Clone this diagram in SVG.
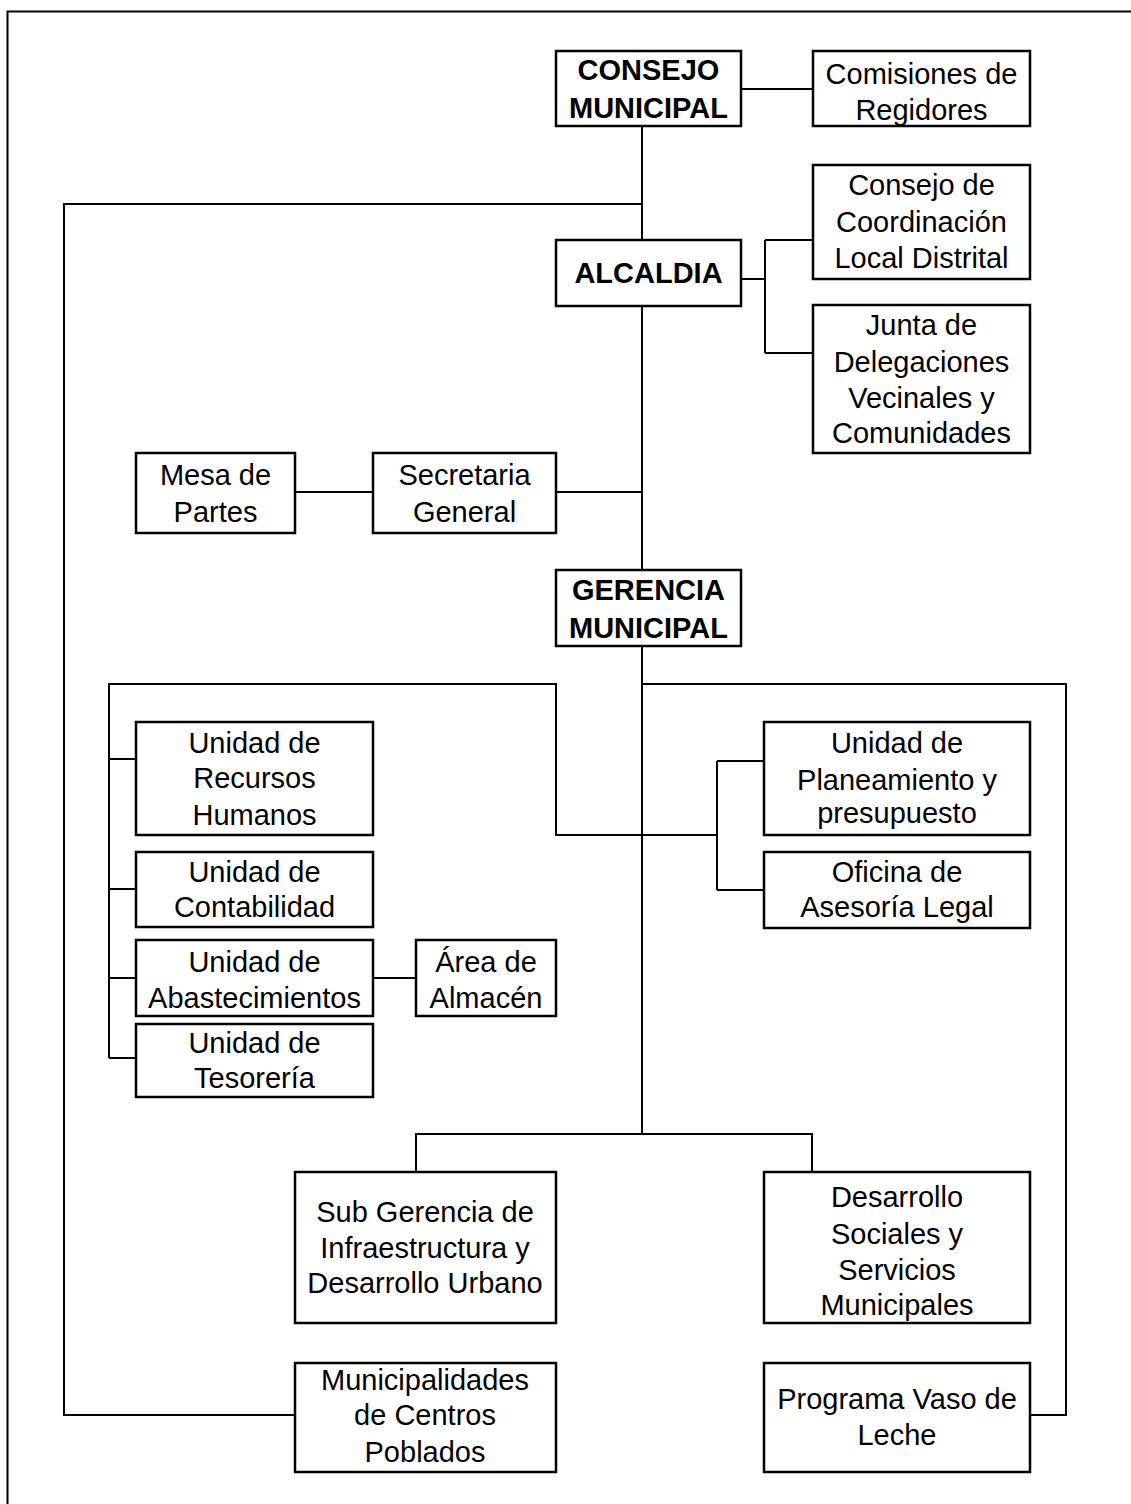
<svg xmlns="http://www.w3.org/2000/svg" width="1131" height="1504" viewBox="0 0 1131 1504">
<style>
  .box { fill: #fff; stroke: #000; stroke-width: 2.5; }
  .conn { fill: none; stroke: #000; stroke-width: 2; }
  text { font-family: "Liberation Sans", Arial, sans-serif; font-size: 29px; fill: #000; text-anchor: middle; }
  .b { font-weight: bold; }
</style>
<rect width="1131" height="1504" fill="#fff"/>
<path class="conn" d="M7.5,1504 V11.5 H1131"/>
<g id="connectors">
  <path class="conn" d="M741,89 H813"/>
  <path class="conn" d="M642,126 V240 M642,306 V570 M642,646 V1134"/>
  <path class="conn" d="M642,204 H64 V1415 H295"/>
  <path class="conn" d="M741,279 H765 M765,240 V353 M765,240 H813 M765,353 H813"/>
  <path class="conn" d="M556,492 H642 M295,492 H373"/>
  <path class="conn" d="M109,1058 V684 H556 V835 H717 M717,761 V890 M717,761 H764 M717,890 H764"/>
  <path class="conn" d="M642,684 H1066 V1415 H1030"/>
  <path class="conn" d="M109,759 H136 M109,889 H136 M109,978 H136 M109,1058 H136"/>
  <path class="conn" d="M373,978 H416"/>
  <path class="conn" d="M416,1172 V1134 H812 V1172"/>
</g>
<g id="consejo"><rect class="box" x="556" y="51" width="185" height="75"/><text class="b" x="648.5" y="80">CONSEJO</text><text class="b" x="648.5" y="118">MUNICIPAL</text></g>
<g id="comisiones"><rect class="box" x="813" y="51" width="217" height="75"/><text x="921.5" y="84">Comisiones de</text><text x="921.5" y="120">Regidores</text></g>
<g id="alcaldia"><rect class="box" x="556" y="240" width="185" height="66"/><text class="b" x="648.5" y="283">ALCALDIA</text></g>
<g id="consejo-coordinacion"><rect class="box" x="813" y="165" width="217" height="114"/><text x="921.5" y="195">Consejo de</text><text x="921.5" y="232">Coordinación</text><text x="921.5" y="268">Local Distrital</text></g>
<g id="junta"><rect class="box" x="813" y="305" width="217" height="148"/><text x="921.5" y="335">Junta de</text><text x="921.5" y="372">Delegaciones</text><text x="921.5" y="408">Vecinales y</text><text x="921.5" y="443">Comunidades</text></g>
<g id="mesa"><rect class="box" x="136" y="453" width="159" height="80"/><text x="215.5" y="485">Mesa de</text><text x="215.5" y="522">Partes</text></g>
<g id="secretaria"><rect class="box" x="373" y="453" width="183" height="80"/><text x="464.5" y="485">Secretaria</text><text x="464.5" y="522">General</text></g>
<g id="gerencia"><rect class="box" x="556" y="570" width="185" height="76"/><text class="b" x="648.5" y="600">GERENCIA</text><text class="b" x="648.5" y="638">MUNICIPAL</text></g>
<g id="rrhh"><rect class="box" x="136" y="722" width="237" height="113"/><text x="254.5" y="753">Unidad de</text><text x="254.5" y="788">Recursos</text><text x="254.5" y="825">Humanos</text></g>
<g id="contabilidad"><rect class="box" x="136" y="852" width="237" height="75"/><text x="254.5" y="882">Unidad de</text><text x="254.5" y="917">Contabilidad</text></g>
<g id="abastecimientos"><rect class="box" x="136" y="940" width="237" height="76"/><text x="254.5" y="972">Unidad de</text><text x="254.5" y="1008">Abastecimientos</text></g>
<g id="almacen"><rect class="box" x="416" y="940" width="140" height="76"/><text x="486" y="972">Área de</text><text x="486" y="1008">Almacén</text></g>
<g id="tesoreria"><rect class="box" x="136" y="1024" width="237" height="73"/><text x="254.5" y="1053">Unidad de</text><text x="254.5" y="1088">Tesorería</text></g>
<g id="planeamiento"><rect class="box" x="764" y="722" width="266" height="113"/><text x="897" y="753">Unidad de</text><text x="897" y="790">Planeamiento y</text><text x="897" y="823">presupuesto</text></g>
<g id="asesoria"><rect class="box" x="764" y="852" width="266" height="76"/><text x="897" y="882">Oficina de</text><text x="897" y="917">Asesoría Legal</text></g>
<g id="subgerencia"><rect class="box" x="295" y="1172" width="261" height="151"/><text x="425" y="1222">Sub Gerencia de</text><text x="425" y="1258">Infraestructura y</text><text x="425" y="1293">Desarrollo Urbano</text></g>
<g id="desarrollo-social"><rect class="box" x="764" y="1172" width="266" height="151"/><text x="897" y="1207">Desarrollo</text><text x="897" y="1244">Sociales y</text><text x="897" y="1280">Servicios</text><text x="897" y="1315">Municipales</text></g>
<g id="municipalidades"><rect class="box" x="295" y="1363" width="261" height="109"/><text x="425" y="1390">Municipalidades</text><text x="425" y="1425">de Centros</text><text x="425" y="1462">Poblados</text></g>
<g id="vaso-leche"><rect class="box" x="764" y="1363" width="266" height="109"/><text x="897" y="1409">Programa Vaso de</text><text x="897" y="1445">Leche</text></g>
</svg>
